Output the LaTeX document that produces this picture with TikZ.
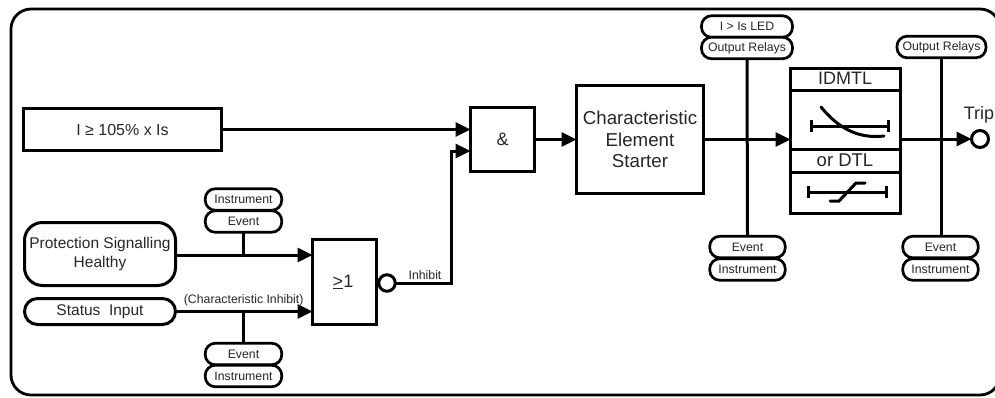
\documentclass[tikz,border=0pt]{standalone}
\usepackage{fontspec}
\setmainfont{Liberation Sans}
\usetikzlibrary{arrows.meta}
\newcommand{\fsz}[2]{\fontsize{#1}{#2}\selectfont}
\tikzset{
 x=1pt,y=-1pt,
 every node/.style={inner sep=0pt,outer sep=0pt,align=center,text=black!85},
 box/.style={draw=black,line width=3pt},
 pill/.style={draw=black,line width=2.7pt,rounded corners=10pt,fill=white,minimum height=21.5pt,font=\fsz{12.3}{14}},
 wire/.style={line width=3pt},
 arr/.style={line width=3pt,-{Triangle[length=15pt,width=14pt]}},
 lbl/.style={font=\fsz{12.3}{14}},
 bub/.style={draw=black,circle,line width=3pt,minimum size=16.5pt,fill=white},
 barred/.style={line width=3pt,{Bar[width=12pt,line width=3pt]}-{Bar[width=12pt,line width=3pt]}},
}
\begin{document}
\begin{tikzpicture}
\useasboundingbox (0,0) rectangle (995,397);
\begin{scope}
\clip (0,0) rectangle (995,397);
\draw[line width=2.8pt,rounded corners=20pt] (11,9) rectangle (1000,395);
\end{scope}
% main boxes
\node[box,minimum width=198pt,minimum height=42pt,font=\fsz{16}{18}] (ib) at (122.5,129.5) {I ≥ 105\% x Is};
\node[box,minimum width=64pt,minimum height=64pt,font=\fsz{18}{20}] (and) at (502.5,139.5) {\&};
\node[box,minimum width=127pt,minimum height=108pt,font=\fsz{18.7}{21.5}] (ces) at (640,139.5) {Characteristic\\Element\\Starter};
\node[box,rounded corners=18pt,minimum width=151pt,minimum height=63pt,font=\fsz{15.5}{19.5}] (psh) at (100,254) {Protection Signalling\\Healthy};
\node[box,rounded corners=13pt,minimum width=151pt,minimum height=26pt,font=\fsz{15.5}{18}] (si) at (100,311.5) {Status\ \ Input};
\node[box,minimum width=64pt,minimum height=85pt,font=\fsz{18}{20}] (or) at (344.5,282) {\hspace*{-3pt}\underline{>}1};
\node[bub] (inv) at (387,283) {};
% timer
\node[box,minimum width=110pt,minimum height=145pt] (t) at (845.5,141) {};
\coordinate (t1) at (790,90);\coordinate (t1r) at (901,90);
\coordinate (t2) at (790,149);\coordinate (t2r) at (901,149);
\coordinate (t3) at (790,172);\coordinate (t3r) at (901,172);
\draw[line width=3pt] (t1)--(t1r) (t2)--(t2r) (t3)--(t3r);
\node[font=\fsz{18}{20}] (idmtl) at (845,78) {IDMTL};
\node[font=\fsz{18.5}{20}] (dtl) at (845,160) {or DTL};
\coordinate (a1) at (810,126);\coordinate (a2) at (890,126);
\draw[barred] (a1)--(a2);
\draw[line width=3pt,line cap=round] (821,107) .. controls (838,128) and (858,139) .. (884,136);
\coordinate (b1) at (807,192);\coordinate (b2) at (888,192);
\draw[barred] (b1)--(b2);
\coordinate (c1) at (830,201);\coordinate (c2) at (839,201);\coordinate (c3) at (856,183);\coordinate (c4) at (865,183);
\draw[line width=3pt,line cap=round] (c1)--(c2)--(c3)--(c4);
% pills
\node[pill,minimum width=91pt] (led) at (747,26.5) {I > Is LED};
\node[pill,minimum width=91pt] (orl) at (747,48) {Output Relays};
\node[pill,minimum width=75.5pt] (ev1) at (747.5,247) {Event};
\node[pill,minimum width=75.5pt] (in1) at (747.5,269.5) {Instrument};
\node[pill,minimum width=89pt] (orr) at (941.5,47) {Output Relays};
\node[pill,minimum width=75.5pt] (ev2) at (940.5,247) {Event};
\node[pill,minimum width=75.5pt] (in2) at (940.5,269.5) {Instrument};
\node[pill,minimum width=76.5pt] (ins3) at (243.5,199.5) {Instrument};
\node[pill,minimum width=76.5pt] (ev3) at (243.5,221.5) {Event};
\node[pill,minimum width=76.5pt] (ev4) at (243.5,354) {Event};
\node[pill,minimum width=76.5pt] (ins4) at (243.5,376) {Instrument};
% trip
\node[bub,minimum size=17pt] (trip) at (980,139) {};
\node[font=\fsz{18}{20}] (triptxt) at (979,115) {Trip};
% connectors
\coordinate (andin) at (and.west |- 0,151);
\coordinate (k) at (451,283);
\draw[arr] (ib.east) -- (and.west |- ib.east);
\draw[arr] (inv.east) -- (k) -- (451,151) -- (andin);
\draw[arr] (and.east) -- (ces.west);
\draw[arr] (ces.east) -- (ces.east -| t.west);
\draw[arr] (t.east |- trip) -- (trip.west);
\draw[arr] (psh.east |- 0,255) -- (or.west |- 0,255);
\draw[arr] (si.east) -- (or.west |- si.east);
\draw[wire] (ev3.south) -- (243.5,255);
\draw[wire] (ev4.north) -- (243.5,311.5);
\draw[wire] (orl.south) -- (ev1.north);
\draw[wire] (orr.south) -- (orr.south |- ev2.north);
\node[lbl] (inh) at (425,275.5) {Inhibit};
\node[lbl] (chi) at (243.7,300) {(Characteristic Inhibit)};
\end{tikzpicture}
\end{document}
